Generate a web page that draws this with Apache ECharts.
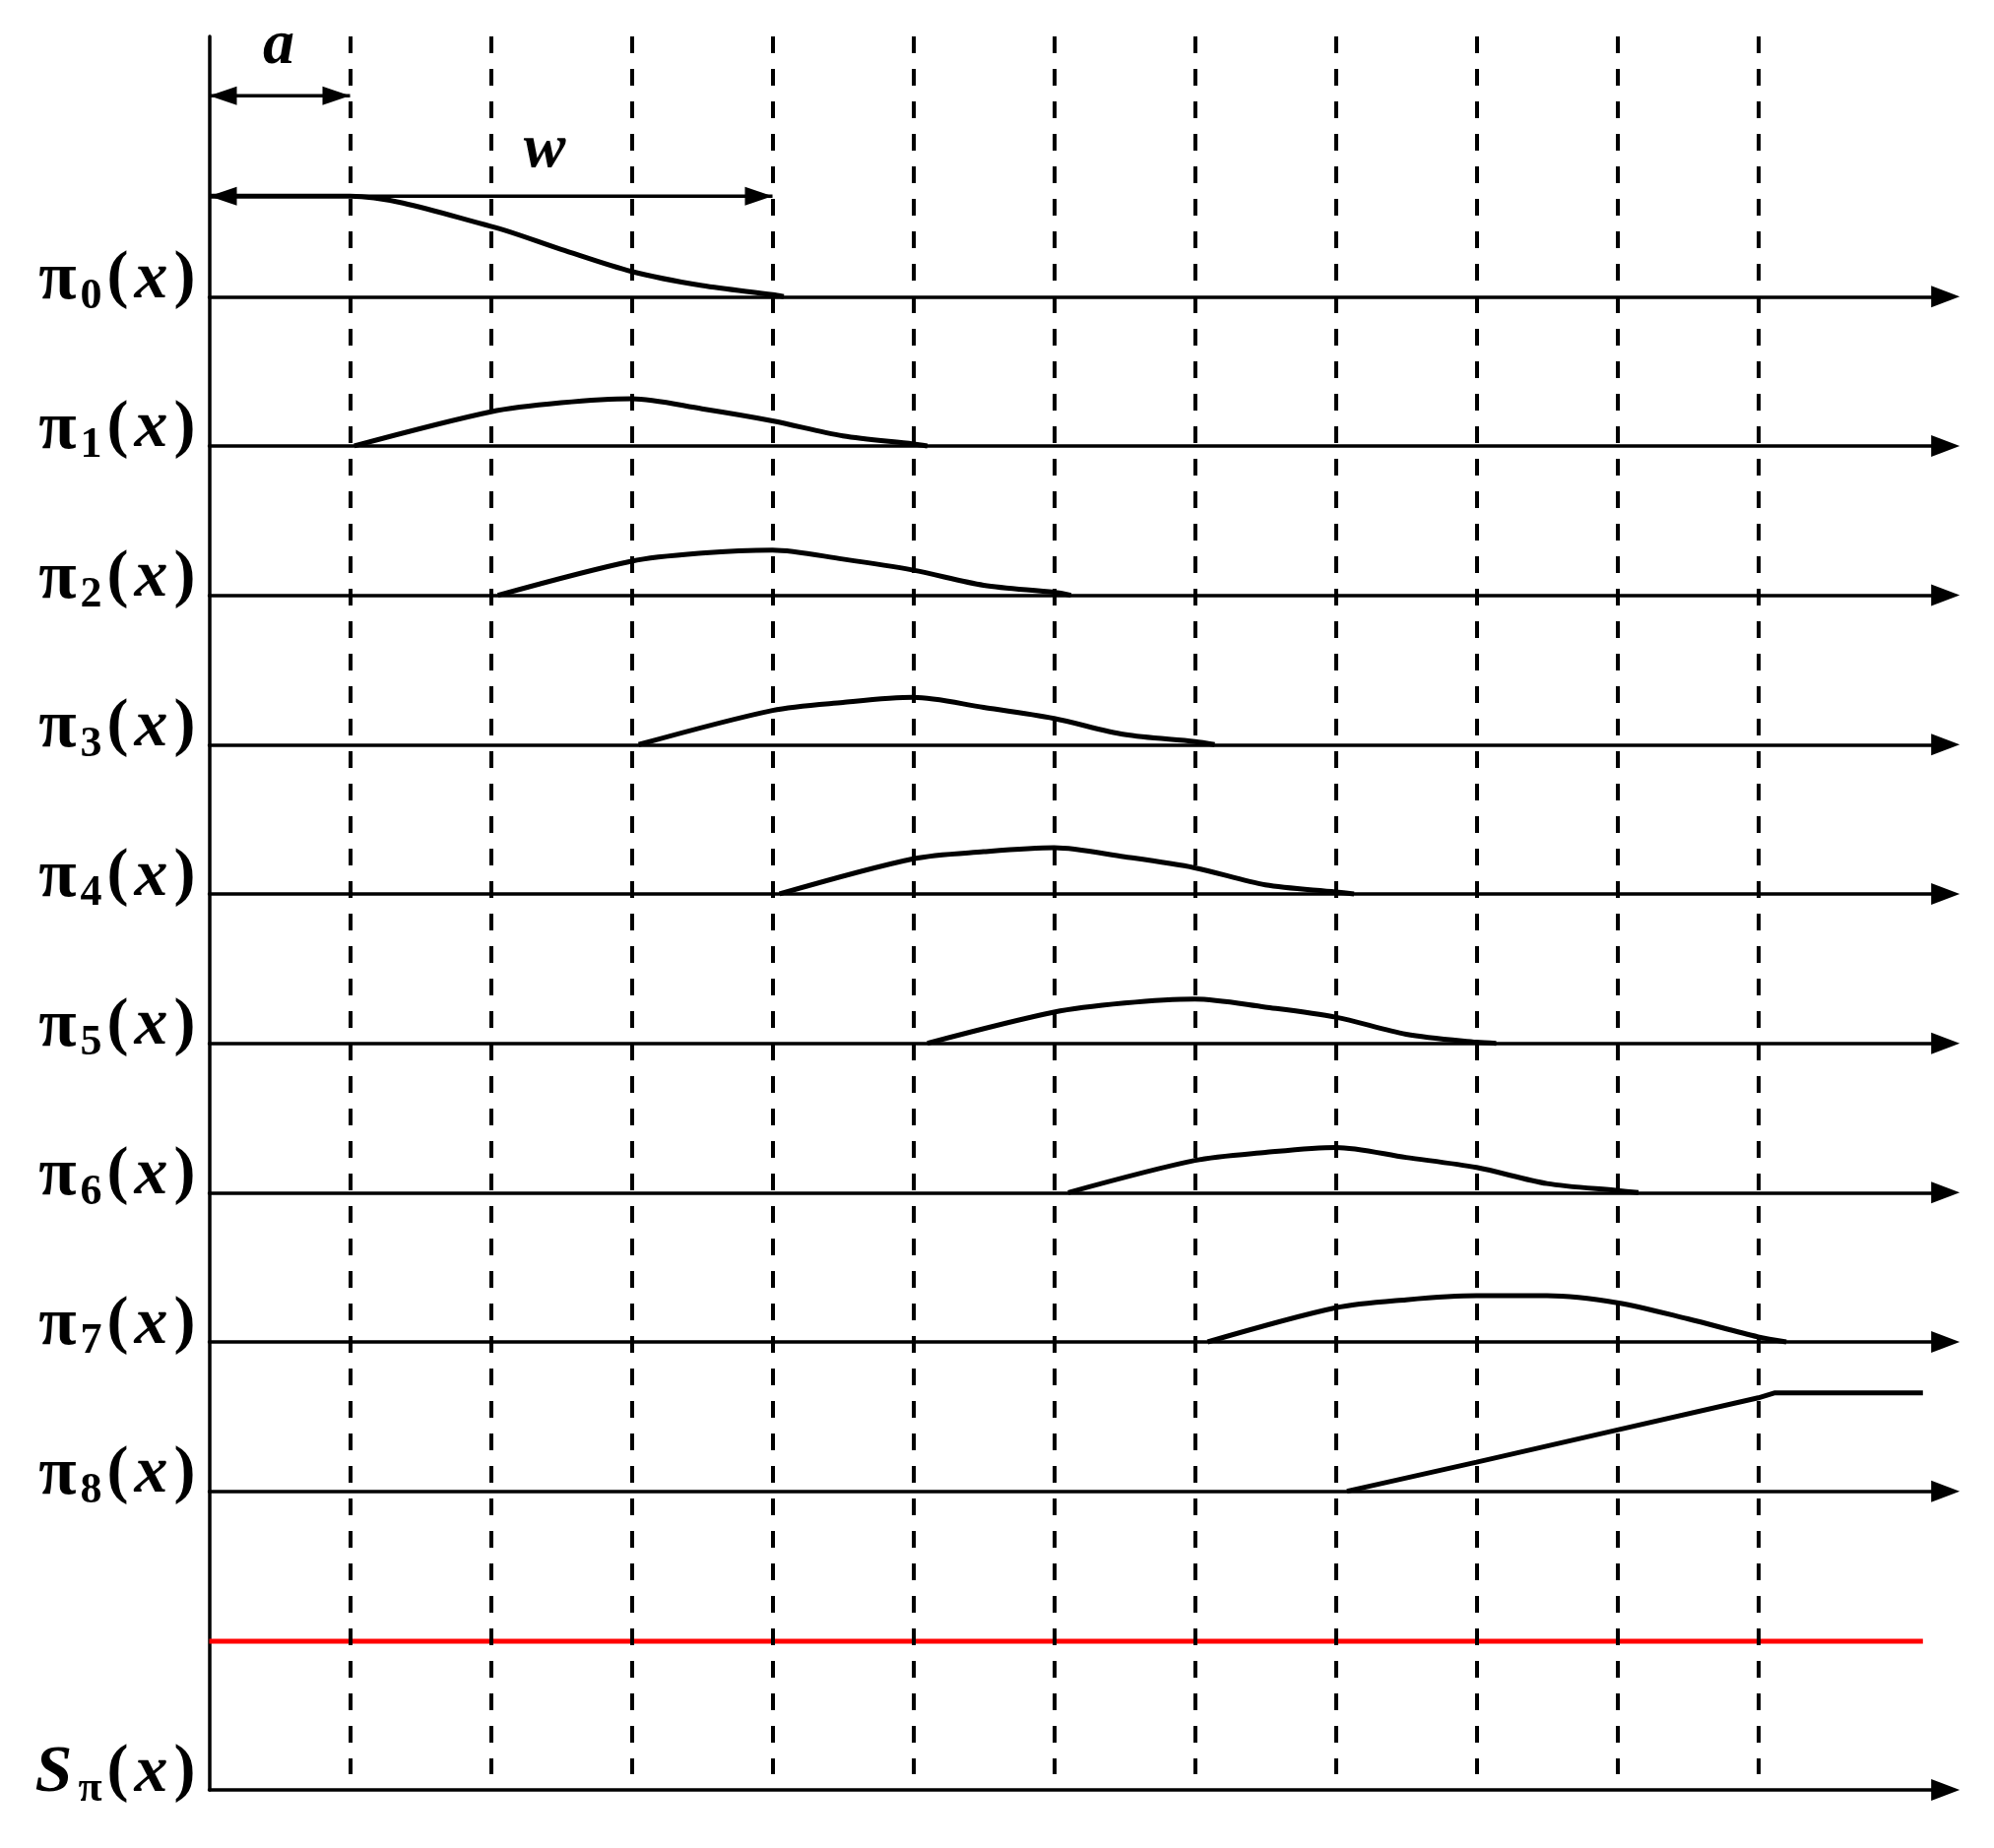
<!DOCTYPE html>
<html>
<head>
<meta charset="utf-8">
<script src="https://cdn.jsdelivr.net/npm/echarts@6/dist/echarts.min.js"></script>
<style>
  html, body { margin: 0; padding: 0; background: #fff; }
  #chart { width: 2025px; height: 1877px; }
</style>
</head>
<body>
<div id="chart"></div>
<script>
// knots, in units of a
var knots = [1, 2, 3, 4, 5, 6, 7, 8, 9, 10, 11];
// a and w spans
var aSpan = [0, 1];
var wSpan = [0, 4];

// basis functions: x in units of a, height relative to the plateau of pi0
var pi0X = [0, 1, 2, 2.5, 3, 3.5, 4, 4.08];
var pi0Y = [1, 1, 0.70, 0.47, 0.25, 0.11, 0.02, 0];
var pi1X = [1.03, 2, 2.5, 3, 3.5, 4, 4.5, 5, 5.1];
var pi1Y = [0, 0.34, 0.43, 0.47, 0.37, 0.25, 0.10, 0.02, 0];
var pi2X = [2.05, 3, 3.5, 4, 4.5, 5, 5.5, 6, 6.12];
var pi2Y = [0, 0.34, 0.42, 0.45, 0.36, 0.25, 0.10, 0.03, 0];
var pi3X = [3.05, 4, 4.5, 5, 5.5, 6, 6.5, 7, 7.14];
var pi3Y = [0, 0.34, 0.42, 0.47, 0.37, 0.26, 0.10, 0.03, 0];
var pi4X = [4.05, 5, 5.5, 6, 6.5, 7, 7.5, 8, 8.13];
var pi4Y = [0, 0.35, 0.42, 0.46, 0.37, 0.26, 0.09, 0.02, 0];
var pi5X = [5.1, 6, 6.5, 7, 7.5, 8, 8.5, 9, 9.14];
var pi5Y = [0, 0.31, 0.40, 0.44, 0.36, 0.26, 0.09, 0.01, 0];
var pi6X = [6.1, 7, 7.5, 8, 8.5, 9, 9.5, 10, 10.15];
var pi6Y = [0, 0.32, 0.40, 0.45, 0.35, 0.25, 0.09, 0.02, 0];
var pi7X = [7.09, 8, 8.5, 9, 9.5, 10, 10.5, 11, 11.2];
var pi7Y = [0, 0.34, 0.42, 0.46, 0.46, 0.39, 0.23, 0.05, 0];
var pi8X = [8.08, 9, 10, 11, 11.12, 12.17];
var pi8Y = [0, 0.29, 0.61, 0.93, 0.98, 0.98];
// red line above the S axis
var sumX = [0, 12.17];
var sumY = [1.48, 1.48];

var rowSubs = ['0', '1', '2', '3', '4', '5', '6', '7', '8'];

// layout
var PX_Y = 102;          // px per y unit
var ROW = 1.487;         // row spacing in y units
var X_MAX = 12.33;
var Y_MAX = 1781 / PX_Y;
var FONT = '"Liberation Serif", "Times New Roman", serif';

var piX = [pi0X, pi1X, pi2X, pi3X, pi4X, pi5X, pi6X, pi7X, pi8X];
var piY = [pi0Y, pi1Y, pi2Y, pi3Y, pi4Y, pi5Y, pi6Y, pi7Y, pi8Y];

function base(k) { return (10 - k) * ROW; }

var axisLineStyle = { color: '#000', width: 3.5 };

var xAxes = [{
  type: 'value', min: 0, max: X_MAX,
  axisLine: { show: true, symbol: ['none', 'triangle'], symbolSize: [22, 29], lineStyle: axisLineStyle },
  axisTick: { show: false }, axisLabel: { show: false }, splitLine: { show: false }
}];
for (var k = 0; k < 9; k++) {
  xAxes.push({
    type: 'value', min: 0, max: X_MAX, position: 'bottom',
    offset: -base(k) * PX_Y,
    axisLine: { show: true, onZero: false, symbol: ['none', 'triangle'], symbolSize: [22, 29], lineStyle: axisLineStyle },
    axisTick: { show: false }, axisLabel: { show: false }, splitLine: { show: false }
  });
}

var series = [];
for (var k = 0; k < 9; k++) {
  series.push({
    name: 'pi' + k,
    type: 'line',
    symbol: 'none',
    smooth: k === 8 ? false : 0.3,
    lineStyle: { color: '#000', width: 5 },
    data: piX[k].map(function (x, i) { return [x, base(k) + piY[this][i]]; }, k)
  });
}

series.push({
  name: 'sum',
  type: 'line',
  symbol: 'none',
  lineStyle: { color: '#ff0000', width: 5 },
  data: sumX.map(function (x, i) { return [x, sumY[i]]; }),
  markLine: {
    silent: true,
    symbol: ['none', 'none'],
    label: { show: false },
    lineStyle: { color: '#000', width: 4, type: [17, 16] },
    data: knots.map(function (x) { return [{ coord: [x, Y_MAX] }, { coord: [x, 0.157] }]; })
  }
});

function spanArrow(span, h) {
  return {
    type: 'line',
    symbolSize: [19, 28],
    itemStyle: { color: '#000' },
    lineStyle: { color: '#000', width: 3.5 },
    data: [
      { value: [span[0], base(0) + h], symbol: 'triangle', symbolRotate: 90, symbolOffset: [14, 0] },
      { value: [span[1], base(0) + h], symbol: 'triangle', symbolRotate: -90, symbolOffset: [-14, 0] }
    ]
  };
}
series.push(spanArrow(aSpan, 2.0));
series.push(spanArrow(wSpan, 1.0));

var rich = {
  p: { fontFamily: FONT, fontWeight: 'bold', fontSize: 66, lineHeight: 64, verticalAlign: 'top', color: '#000', padding: [0, 2, 0, 2] },
  g: { fontFamily: FONT, fontWeight: 'bold', fontSize: 70, lineHeight: 64, verticalAlign: 'top', color: '#000', padding: [0, 2, 0, 0] },
  i: { fontFamily: FONT, fontWeight: 'bold', fontStyle: 'italic', fontSize: 68, lineHeight: 64, verticalAlign: 'top', color: '#000', padding: [0, 4, 0, 4] },
  s: { fontFamily: FONT, fontWeight: 'bold', fontSize: 44, lineHeight: 102, verticalAlign: 'middle', color: '#000', padding: [0, 3, 0, 2] }
};

var chart = echarts.init(document.getElementById('chart'));
chart.setOption({
  animation: false,
  backgroundColor: '#fff',
  grid: { left: 212.5, top: 37, width: X_MAX * 143, height: 1781, outerBoundsMode: 'none' },
  xAxis: xAxes,
  yAxis: {
    type: 'value', min: 0, max: Y_MAX, interval: ROW,
    axisLine: { show: true, lineStyle: axisLineStyle },
    axisTick: { show: false },
    splitLine: { show: false },
    axisLabel: {
      margin: 12,
      rich: rich,
      formatter: function (v) {
        var r = Math.round(v / ROW);
        if (Math.abs(v - r * ROW) > 0.01) return '';
        if (r === 0) return '{i|S}{s|π}{p|(}{i|x}{p|)}';
        var k = 10 - r;
        if (k >= 0 && k <= 8) return '{g|π}{s|' + rowSubs[k] + '}{p|(}{i|x}{p|)}';
        return '';
      }
    }
  },
  graphic: [
    { type: 'text', x: 283, y: 79, style: { text: 'a', font: 'bold italic 64px ' + FONT, fill: '#000', align: 'center', verticalAlign: 'bottom' } },
    { type: 'text', x: 553, y: 184, style: { text: 'w', font: 'bold italic 64px ' + FONT, fill: '#000', align: 'center', verticalAlign: 'bottom' } }
  ],
  series: series
});
</script>
</body>
</html>
